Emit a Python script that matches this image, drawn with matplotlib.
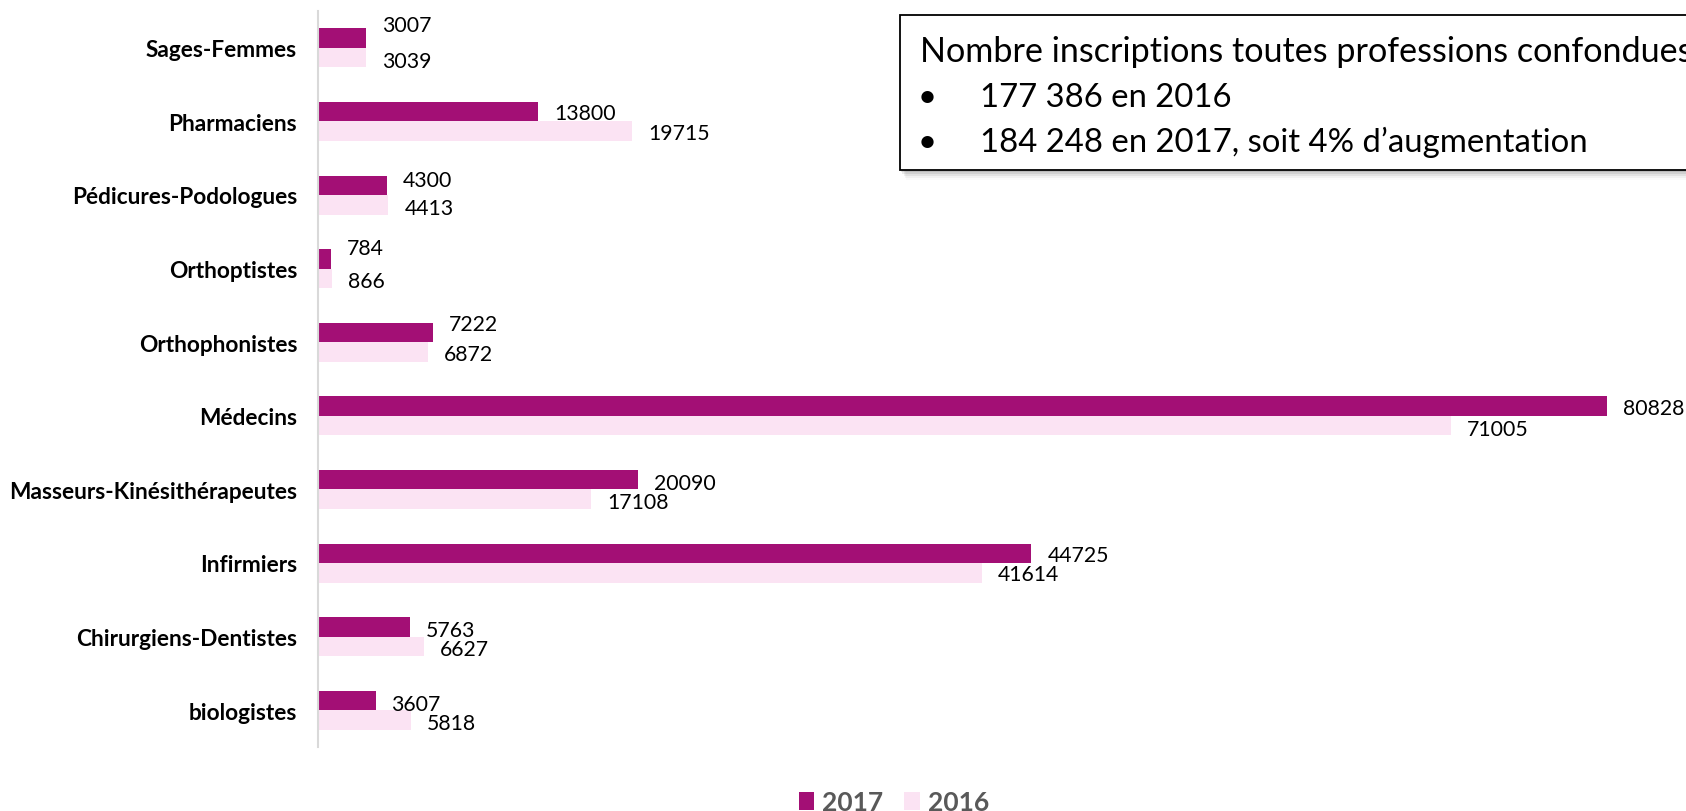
import matplotlib
matplotlib.use('Agg')
import matplotlib.pyplot as plt
from matplotlib.patches import Rectangle, Patch
import numpy as np

# ---------------- data ----------------
categories = ['Sages-Femmes', 'Pharmaciens', 'Pédicures-Podologues', 'Orthoptistes',
              'Orthophonistes', 'Médecins', 'Masseurs-Kinésithérapeutes', 'Infirmiers',
              'Chirurgiens-Dentistes', 'biologistes']
values_2017 = [3007, 13800, 4300, 784, 7222, 80828, 20090, 44725, 5763, 3607]
values_2016 = [3039, 19715, 4413, 866, 6872, 71005, 17108, 41614, 6627, 5818]
series_labels = ['2017', '2016']
box_title = 'Nombre inscriptions toutes professions confondues'
box_lines = ['177 386 en 2016', '184 248 en 2017, soit 4% d\u2019augmentation']

# ---------------- style / layout ----------------
plt.rcParams['font.family'] = ['Lato', 'DejaVu Sans']
C17 = '#A30F75'
C16 = '#FBE3F3'
W, H, DPI = 1686, 812, 100
PX = 72.0 / DPI  # points per pixel

# vertical nudges of value labels (pixels, + = down)
dy17 = [-15, 0, -6.5, -12, -10, 0, 2, 0, 1.5, 1.5]
dy16 = [1.5, 0, 1.5, 1.5, 0, 1.5, 1.5, 0, 1.5, 1.5]

fig = plt.figure(figsize=(W / DPI, H / DPI), dpi=DPI)
ax = fig.add_axes([318 / W, 1 - 748 / H, (W - 318) / W, 736 / H])

n = len(categories)
y = np.arange(n)
h = 19.5 / 73.6
ax.barh(y - h / 2, values_2017, height=h, color=C17, label=series_labels[0])
ax.barh(y + h / 2, values_2016, height=h, color=C16, label=series_labels[1])

ax.set_xlim(0, (W - 318) / 0.01595)
ax.set_ylim(n - 0.5, -0.5)

for s in ['top', 'right', 'bottom']:
    ax.spines[s].set_visible(False)
ax.spines['left'].set_color('#D9D9D9')
ax.spines['left'].set_linewidth(1.5)
ax.set_xticks([])
ax.set_yticks(y)
ax.set_yticklabels(categories, fontsize=16.3, fontweight='bold', color='black')
ax.tick_params(axis='y', length=0, pad=15)
for t in ax.get_yticklabels():
    t.set_verticalalignment('center_baseline')

lab_fs = 15.3
cap_px = 0.717 * lab_fs / PX
for vals, yy, dys in [(values_2017, y - h / 2, dy17), (values_2016, y + h / 2, dy16)]:
    for v, yc, d in zip(vals, yy, dys):
        ax.annotate(f'{v}', xy=(v, yc), xytext=(16 * PX, -(d + cap_px / 2) * PX),
                    textcoords='offset points', ha='left', va='baseline',
                    fontsize=lab_fs, color='black', annotation_clip=False)

# ---------------- text box ----------------
bx0, by0, by1 = 900, 16, 171
for k, a in enumerate([0.10, 0.08, 0.06, 0.04, 0.02]):
    off = 2 + 2 * k
    fig.patches.append(Rectangle(((bx0 + off * 0.6) / W, 1 - (by1 + off) / H), 1.1,
                                 (by1 - by0) / H, transform=fig.transFigure,
                                 facecolor='black', edgecolor='none', alpha=a, zorder=1))
fig.patches.append(Rectangle((bx0 / W, 1 - by1 / H), 1.1, (by1 - by0) / H,
                             transform=fig.transFigure, facecolor='white',
                             edgecolor='black', linewidth=1.3, zorder=2))
box_fs = 23.7
bcap = 0.717 * box_fs / PX
fig.text(920 / W, 1 - (50 + bcap / 2) / H, box_title, fontsize=24.6,
         va='baseline', ha='left', color='black', zorder=3)
for i, line in enumerate(box_lines):
    yc = 95 + 45 * i
    fig.text(918 / W, 1 - (yc + bcap / 2) / H, '\u2022', fontsize=box_fs,
             va='baseline', ha='left', color='black', zorder=3)
    fig.text(980 / W, 1 - (yc + bcap / 2) / H, line, fontsize=box_fs,
             va='baseline', ha='left', color='black', zorder=3)

# ---------------- legend ----------------
handles = [Patch(facecolor=C17, edgecolor='none'), Patch(facecolor=C16, edgecolor='none')]
leg = fig.legend(handles, series_labels, loc='center', bbox_to_anchor=(894 / W, 1 - 803 / H),
                 ncol=2, frameon=False, handlelength=0.6, handleheight=0.7,
                 handletextpad=0.3, columnspacing=0.8, borderpad=0,
                 prop={'family': 'Lato', 'weight': 'bold', 'size': 19})
for t in leg.get_texts():
    t.set_color('#595959')

fig.savefig('out.png', dpi=DPI)
